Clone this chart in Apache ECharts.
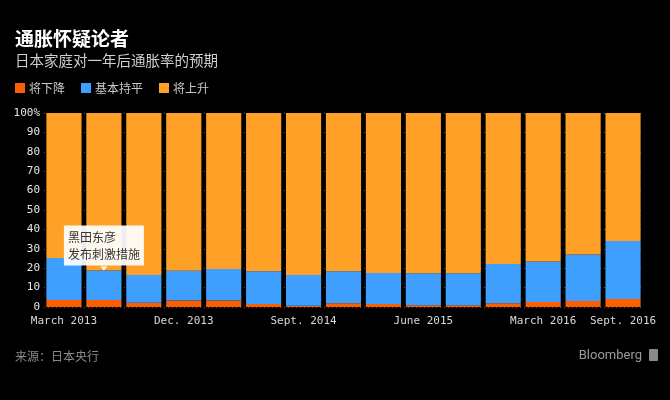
<!DOCTYPE html>
<html>
<head>
<meta charset="utf-8">
<script src="https://cdn.jsdelivr.net/npm/echarts@6/dist/echarts.min.js"></script>
<style>
  html, body { margin: 0; padding: 0; background: #000; }
  #chart { width: 670px; height: 400px; }
</style>
</head>
<body>
<div id="chart"></div>
<script>
// 季度数据（%）
const quarters = [
  "March 2013", "June 2013", "Sept. 2013", "Dec. 2013",
  "March 2014", "June 2014", "Sept. 2014", "Dec. 2014",
  "March 2015", "June 2015", "Sept. 2015", "Dec. 2015",
  "March 2016", "June 2016", "Sept. 2016"
];
const willFall = [3.6, 3.6, 2.2, 3.4, 3.3, 1.5, 0.7, 1.9, 1.5, 0.9, 0.9, 1.9, 2.6, 3.1, 4.1];
const unchanged = [21.7, 15.2, 14.3, 15.3, 16.3, 16.9, 15.8, 16.5, 16.0, 16.5, 16.5, 20.3, 20.8, 23.9, 29.9];
const willRise = [74.7, 81.2, 83.5, 81.3, 80.4, 81.6, 83.5, 81.6, 82.5, 82.6, 82.6, 77.8, 76.6, 73.0, 66.0];
const shownLabels = [0, 3, 6, 9, 12, 14];
const yTicks = [0, 10, 20, 30, 40, 50, 60, 70, 80, 90, 100];

const mono = "DejaVu Sans Mono";
const cjk = "Noto Sans CJK SC";

const chart = echarts.init(document.getElementById("chart"));

chart.setOption({
  backgroundColor: "#000",
  animation: false,
  title: [
    {
      text: "通胀怀疑论者",
      left: 10, top: 24,
      textStyle: { color: "#fff", fontSize: 19, fontWeight: "bold", fontFamily: cjk }
    },
    {
      text: "日本家庭对一年后通胀率的预期",
      left: 10, top: 48,
      textStyle: { color: "#cfcfcf", fontSize: 14.5, fontWeight: "normal", fontFamily: cjk }
    },
    {
      text: "来源：日本央行",
      left: 10, top: 345,
      textStyle: { color: "#8a8a8a", fontSize: 12, fontWeight: "normal", fontFamily: cjk }
    },
    {
      text: "Bloomberg",
      right: 23, top: 344,
      textStyle: { color: "#9a9a9a", fontSize: 13, fontWeight: "normal", fontFamily: "Roboto" }
    }
  ],
  graphic: [
    // Bloomberg 小图标
    { type: "rect", right: 12, top: 349, shape: { width: 9, height: 12, r: 1 }, style: { fill: "#8a8a8a" } }
  ],
  legend: {
    left: 10, top: 77,
    icon: "rect",
    itemWidth: 10, itemHeight: 10, itemGap: 16,
    textStyle: { color: "#c8c8c8", fontSize: 12, fontFamily: cjk, padding: [0, 0, 0, -1] },
    data: ["将下降", "基本持平", "将上升"]
  },
  grid: { left: 44, top: 113, width: 599, height: 194, containLabel: false },
  xAxis: {
    type: "category",
    data: quarters,
    axisLine: { show: false },
    axisTick: { show: false },
    axisLabel: {
      color: "#d8d8d8", fontSize: 11, fontFamily: mono, margin: 9,
      interval: (i) => shownLabels.includes(i)
    }
  },
  yAxis: {
    type: "value",
    min: 0, max: 100, interval: 10,
    axisLine: { show: false },
    axisTick: { show: false },
    splitLine: { lineStyle: { color: "#555", type: [1, 3], width: 1 } },
    axisLabel: {
      color: "#e6e6e6", fontSize: 11, fontFamily: mono, margin: 4,
      formatter: (v) => (v === yTicks[yTicks.length - 1] ? v + "%" : String(v))
    }
  },
  series: [
    {
      name: "将下降", type: "bar", stack: "all",
      data: willFall, barCategoryGap: "12%",
      itemStyle: { color: "#ff5e00" }
    },
    {
      name: "基本持平", type: "bar", stack: "all",
      data: unchanged, barCategoryGap: "12%",
      itemStyle: { color: "#3e9fff" },
      markPoint: {
        silent: true,
        data: [
          {
            coord: [1, willFall[1] + unchanged[1]],
            symbol: "triangle", symbolRotate: 180,
            symbolSize: [7, 4], symbolOffset: [0, -2],
            itemStyle: { color: "#fff" },
            label: {
              show: true, position: "top", distance: 1,
              formatter: "{a|黑田东彦}\n{a|发布刺激措施}",
              rich: {
                a: { width: 72, align: "left", color: "#333", fontSize: 12, fontFamily: cjk, lineHeight: 17 }
              },
              backgroundColor: "rgba(255,255,255,0.93)", padding: [3, 4, 3, 4]
            }
          }
        ]
      }
    },
    {
      name: "将上升", type: "bar", stack: "all",
      data: willRise, barCategoryGap: "12%",
      itemStyle: { color: "#ffa027" }
    }
  ]
});
</script>
</body>
</html>
